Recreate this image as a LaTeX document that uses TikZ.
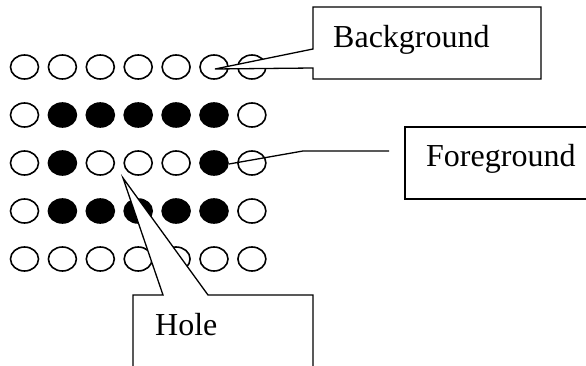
\documentclass[tikz,border=0pt]{standalone}
\usepackage{fontspec}
\setmainfont{Liberation Serif}
\usetikzlibrary{shapes.geometric}
\begin{document}
\begin{tikzpicture}[x=1pt,y=-1pt,
  dot/.style={draw=black,line width=1.6pt,ellipse,minimum width=28pt,minimum height=24pt,inner sep=0pt},
  on/.style={dot,fill=black},
  off/.style={dot,fill=white},
  callout/.style={draw=black,line width=1.3pt,fill=white,line join=miter},
  lbl/.style={font=\fontsize{32}{36}\selectfont,anchor=base west,inner sep=0pt}]
\clip (0,0) rectangle (586,366);
\fill[white] (0,0) rectangle (586,366);
% pattern: rows of W/B
\foreach \r/\pat in {1/{0,0,0,0,0,0,0},2/{0,1,1,1,1,1,0},3/{0,1,0,0,0,1,0},4/{0,1,1,1,1,1,0},5/{0,0,0,0,0,0,0}}{
  \foreach \v [count=\c] in \pat {
    \ifnum\v=1
      \node[on] (c\r\c) at ({24.5+37.9*(\c-1)},{67+48*(\r-1)}) {};
    \else
      \node[off] (c\r\c) at ({24.5+37.9*(\c-1)},{67+48*(\r-1)}) {};
    \fi
  }
}
% Background callout
\coordinate (bgtip) at (215,69);
\draw[callout] (313,7) -- (541,7) -- (541,79) -- (313,79) -- (313,68) -- (bgtip) -- (313,49) -- cycle;
\node[lbl] (bg) at (333,48) {Background};
% Foreground callout (line callout)
\draw[callout] (405,127) -- (600,127) -- (600,199) -- (405,199) -- cycle;
\node[lbl] (fg) at (426,167) {Foreground};
\coordinate (fgtip) at (229,164);
\coordinate (fgbend) at (303,151);
\coordinate (fgend) at (389,151);
\draw[line width=1.3pt] (fgtip) -- (fgbend) -- (fgend);
% Hole callout
\coordinate (holetip) at (123,178);
\draw[callout] (133,380) -- (133,295) -- (163,295) -- (holetip) -- (208,295) -- (313,295) -- (313,380);
\node[lbl] (hole) at (155,335) {Hole};
\end{tikzpicture}
\end{document}
